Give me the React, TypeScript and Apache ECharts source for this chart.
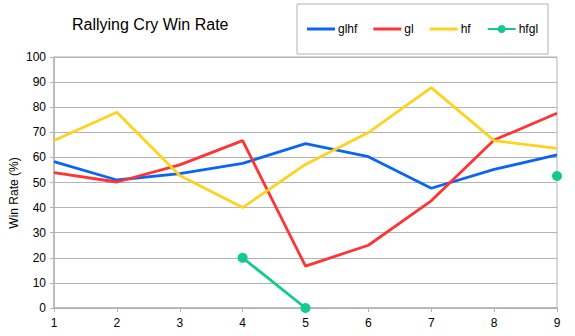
import React, { useEffect, useRef } from "react";
import * as echarts from "echarts";

const categories = ["1", "2", "3", "4", "5", "6", "7", "8", "9"];
const glhf = [58.3, 51, 53.5, 57.6, 65.5, 60.3, 47.7, 55.2, 61];
const gl = [53.9, 50.2, 57, 66.7, 16.7, 25, 42.7, 66.9, 77.6];
const hf = [66.7, 78, 52.8, 40, 57.2, 69.9, 87.8, 66.7, 63.6];
const hfgl: (number | null)[] = [null, null, null, 20, 0, null, null, null, 52.6];
const yTicks = { min: 0, max: 100, interval: 10 };

const FONT = "Liberation Sans, Arial, sans-serif";
const GRAY = "#b3b3b3";
const LINE_ICON = "path://M0,0 L28,0 L28,3 L0,3 Z";

export default function App() {
  const ref = useRef<HTMLDivElement>(null);
  useEffect(() => {
    if (!ref.current) return;
    const chart = echarts.init(ref.current, null, { renderer: "svg" });
    const lineSeries = (name: string, data: (number | null)[], color: string, sym: boolean) => ({
      name,
      type: "line",
      data,
      symbol: sym ? "circle" : "none",
      symbolSize: 10,
      showSymbol: sym,
      connectNulls: false,
      lineStyle: { color, width: 2.8 },
      itemStyle: { color },
      emphasis: { disabled: true },
    });
    chart.setOption({
      animation: false,
      backgroundColor: "#ffffff",
      textStyle: { fontFamily: FONT },
      title: {
        text: "Rallying Cry Win Rate",
        left: 67,
        top: 11,
        textStyle: { fontFamily: FONT, fontSize: 16, fontWeight: "normal", color: "#000" },
      },
      legend: {
        left: 297,
        top: 4,
        width: 240,
        padding: [19, 10, 19, 10],
        itemGap: 16,
        itemWidth: 28,
        itemHeight: 10,
        borderColor: GRAY,
        borderWidth: 1,
        backgroundColor: "#fff",
        textStyle: { fontFamily: FONT, fontSize: 12, color: "#000", padding: [0, 0, 0, -2] },
        data: [
          { name: "glhf", icon: LINE_ICON },
          { name: "gl", icon: LINE_ICON },
          { name: "hf", icon: LINE_ICON },
          { name: "hfgl" },
        ],
      },
      grid: {
        left: 54,
        right: 18,
        top: 57,
        bottom: 28,
        show: true,
        borderColor: GRAY,
        borderWidth: 1,
      },
      xAxis: {
        type: "category",
        data: categories,
        boundaryGap: false,
        axisLine: { lineStyle: { color: GRAY, width: 1.5 } },
        axisTick: { show: true, length: 4, lineStyle: { color: GRAY } },
        axisLabel: { color: "#000", fontSize: 12, fontFamily: FONT, margin: 9 },
        splitLine: { show: false },
      },
      yAxis: {
        type: "value",
        min: yTicks.min,
        max: yTicks.max,
        interval: yTicks.interval,
        axisLine: { show: true, lineStyle: { color: GRAY, width: 1.5 } },
        axisTick: { show: true, length: 4, lineStyle: { color: GRAY } },
        axisLabel: { color: "#000", fontSize: 12, fontFamily: FONT, margin: 8 },
        splitLine: { show: true, lineStyle: { color: GRAY, width: 1 } },
      },
      graphic: [
        {
          type: "text",
          x: 14,
          y: 193,
          rotation: Math.PI / 2,
          style: {
            text: "Win Rate (%)",
            fontFamily: FONT,
            fontSize: 12,
            fill: "#000",
            align: "center",
            verticalAlign: "middle",
          },
        },
      ],
      series: [
        lineSeries("glhf", glhf, "#0a64f5", false),
        lineSeries("gl", gl, "#ff3333", false),
        lineSeries("hf", hf, "#ffd21f", false),
        lineSeries("hfgl", hfgl, "#12c98e", true),
      ],
    });
    return () => chart.dispose();
  }, []);
  return <div ref={ref} style={{ width: 575, height: 336, position: "absolute", left: 0, top: 0 }} />;
}
